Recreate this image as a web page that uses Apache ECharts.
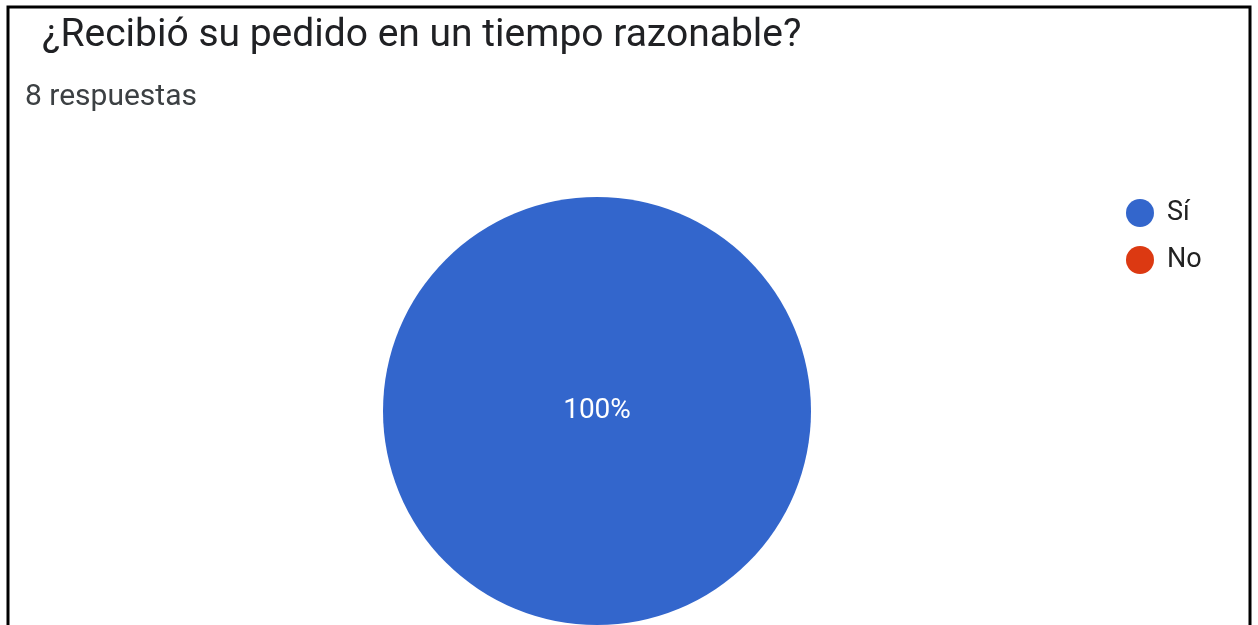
<!DOCTYPE html>
<html>
<head>
<meta charset="utf-8">
<script src="https://cdn.jsdelivr.net/npm/echarts@6/dist/echarts.min.js"></script>
<style>
  html, body { margin: 0; padding: 0; background: #fff; }
  #main { width: 1258px; height: 625px; }
</style>
</head>
<body>
<div id="main"></div>
<script>
  // datos de la encuesta
  const titleText = "¿Recibió su pedido en un tiempo razonable?";
  const subText = "8 respuestas";
  const categories = ["Sí", "No"];
  const counts = [8, 0];
  const colors = ["#3366cc", "#dc3912"];

  const chart = echarts.init(document.getElementById("main"));

  const pieData = categories.map((name, i) => ({
    name: name,
    value: counts[i],
    itemStyle: { color: colors[i] }
  }));

  const option = {
    backgroundColor: "#fff",
    textStyle: { fontFamily: "Roboto" },
    title: [
      {
        text: titleText,
        left: 37,
        top: 12,
        textStyle: { fontSize: 39, fontWeight: "normal", color: "#202124", fontFamily: "Roboto" }
      },
      {
        text: subText,
        left: 20,
        top: 77,
        textStyle: { fontSize: 30, fontWeight: "normal", color: "#3c4043", fontFamily: "Roboto" }
      }
    ],
    legend: {
      orient: "vertical",
      left: 1121,
      top: 194,
      icon: "circle",
      itemWidth: 44,
      itemHeight: 28,
      itemGap: 19,
      data: categories,
      textStyle: { fontSize: 27, color: "#222", fontFamily: "Roboto" }
    },
    graphic: [
      {
        type: "rect",
        shape: { x: 8, y: 7, width: 1242, height: 660 },
        style: { fill: null, stroke: "#000", lineWidth: 3 },
        silent: true
      }
    ],
    series: [
      {
        type: "pie",
        center: [597, 411],
        radius: 214,
        startAngle: 90,
        silent: true,
        data: pieData,
        label: {
          position: "center",
          color: "#fff",
          fontSize: 28,
          fontFamily: "Roboto",
          formatter: (p) => (p.value > 0 ? Math.round(p.percent) + "%" : "")
        },
        labelLine: { show: false }
      }
    ]
  };

  chart.setOption(option);
</script>
</body>
</html>
